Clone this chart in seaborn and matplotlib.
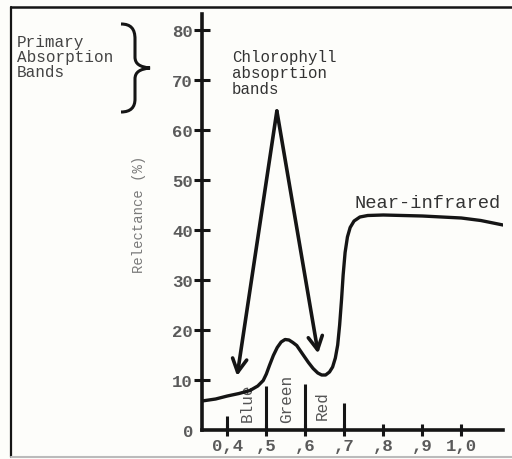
import matplotlib
matplotlib.use("Agg")
import numpy as np
import pandas as pd
import seaborn as sns
from matplotlib import pyplot as plt
from matplotlib.path import Path
from matplotlib.patches import PathPatch
from matplotlib.lines import Line2D

# reflectance curve of green vegetation
wavelength = [0.335, 0.37, 0.40, 0.43, 0.458, 0.478, 0.492, 0.500, 0.508, 0.518,
              0.528, 0.538, 0.548, 0.558, 0.568, 0.578, 0.592, 0.608, 0.620, 0.632,
              0.642, 0.652, 0.662, 0.670, 0.677, 0.683, 0.688, 0.693, 0.697, 0.702,
              0.708, 0.715, 0.725, 0.740, 0.76, 0.80, 0.90, 1.00, 1.05, 1.107]
reflectance = [5.8, 6.2, 6.8, 7.3, 7.9, 8.8, 9.9, 11.2, 12.9, 14.9,
               16.5, 17.6, 18.1, 18.0, 17.5, 16.9, 15.3, 13.5, 12.3, 11.4,
               11.0, 11.0, 11.6, 12.6, 14.4, 17.0, 21.0, 26.2, 31.0, 35.5,
               38.6, 40.5, 41.8, 42.6, 42.9, 43.0, 42.8, 42.4, 41.9, 41.0]

x_ticks = [0.4, 0.5, 0.6, 0.7, 0.8, 0.9, 1.0]
x_tick_labels = ["0,4", ",5", ",6", ",7", ",8", ",9", "1,0"]
y_ticks = [0, 10, 20, 30, 40, 50, 60, 70, 80]

band_edges = [0.4, 0.5, 0.6, 0.7]
band_edge_tops = [2.8, 8.8, 9.2, 5.4]
band_names = ["Blue", "Green", "Red"]
band_label_x = [0.45, 0.552, 0.643]
band_label_y = [1.8, 1.6, 2.2]

# chlorophyll absorption arrows: common start, two tips
arrow_start = (0.527, 63.8)
arrow_tips = [(0.425, 10.8), (0.633, 15.3)]

df = pd.DataFrame({"wavelength": wavelength, "reflectance": reflectance})

sns.set_theme(style="white")
plt.rcParams["font.family"] = ["Liberation Mono", "DejaVu Sans Mono"]

W, H = 512, 460
bg = "#fdfdfa"
ink = "#151515"
fig = plt.figure(figsize=(W / 100, H / 100), dpi=100, facecolor=bg)
ax = fig.add_axes([202 / W, 1 - 431 / H, 301 / W, 416 / H])
ax.set_facecolor(bg)

sns.lineplot(data=df, x="wavelength", y="reflectance", ax=ax,
             color=ink, linewidth=2.4, zorder=3)

ax.set_xlim(0.335, 1.107)
ax.set_ylim(0, 83.2)

for s in ["top", "right"]:
    ax.spines[s].set_visible(False)
for s in ["left", "bottom"]:
    ax.spines[s].set_color(ink)
    ax.spines[s].set_linewidth(2.6)

ax.set_xticks(x_ticks)
ax.set_xticklabels(x_tick_labels)
ax.set_yticks(y_ticks)
ax.tick_params(axis="both", left=True, bottom=True, direction="inout",
               color=ink, width=2.2, labelsize=12.5, labelcolor="#5a5a5a")
ax.tick_params(axis="y", length=11, pad=1)
ax.tick_params(axis="x", length=8, pad=2)
for lbl in ax.get_xticklabels() + ax.get_yticklabels():
    lbl.set_fontweight("bold")
# no tick mark at the origin, only its label
ax.yaxis.get_major_ticks()[0].tick1line.set_visible(False)

ax.set_xlabel("")
ax.set_ylabel("Relectance (%)", fontsize=10, color="#7a7a7a")
ax.yaxis.set_label_coords(-0.185, 0.52)

# band separators and names
ax.vlines(band_edges, 0, band_edge_tops, color=ink, linewidth=2.2)
for name, bx, by in zip(band_names, band_label_x, band_label_y):
    ax.text(bx, by, name, rotation=90, ha="center", va="bottom",
            fontsize=11.5, color="#555555", zorder=2)

for tip in arrow_tips:
    ax.annotate("", xy=tip, xytext=arrow_start,
                arrowprops=dict(arrowstyle="->,head_length=0.6,head_width=0.32",
                                mutation_scale=16, color=ink, lw=2.6,
                                shrinkA=0, shrinkB=0))

ax.text(0.412, 76.2, "Chlorophyll\nabsoprtion\nbands", ha="left", va="top",
        fontsize=11.3, color="#333333", linespacing=1.1)
ax.text(0.725, 45.6, "Near-infrared", ha="left", va="center",
        fontsize=13.5, color="#333333")

# left margin note with brace
fig.text(17 / W, 1 - 35 / H, "Primary\nAbsorption\nBands", ha="left", va="top",
         fontsize=11.5, color="#444444", linespacing=1.0)


def px(x, y):
    return (x / W, 1 - y / H)


verts = [px(121, 25), px(131, 25), px(135, 30), px(135, 40),
         px(135, 58),
         px(135, 65), px(140, 68), px(150, 69),
         px(140, 70), px(135, 73), px(135, 80),
         px(135, 100),
         px(135, 108), px(131, 113), px(121, 113)]
codes = [Path.MOVETO, Path.CURVE4, Path.CURVE4, Path.CURVE4,
         Path.LINETO,
         Path.CURVE4, Path.CURVE4, Path.CURVE4,
         Path.CURVE4, Path.CURVE4, Path.CURVE4,
         Path.LINETO,
         Path.CURVE4, Path.CURVE4, Path.CURVE4]
fig.patches.append(PathPatch(Path(verts, codes), transform=fig.transFigure,
                             facecolor="none", edgecolor=ink, lw=2.2))

# scanned page frame
fig.lines.append(Line2D([11 / W, 11 / W], [1 - 8 / H, 1 - 458 / H],
                        transform=fig.transFigure, color=ink, lw=1.6))
fig.lines.append(Line2D([11 / W, 1.0], [1 - 8 / H, 1 - 8 / H],
                        transform=fig.transFigure, color=ink, lw=1.8))
fig.lines.append(Line2D([11 / W, 1.0], [1 - 458 / H, 1 - 458 / H],
                        transform=fig.transFigure, color="#bbbbbb", lw=1.5))

fig.savefig("out.png", dpi=100, facecolor=bg)
